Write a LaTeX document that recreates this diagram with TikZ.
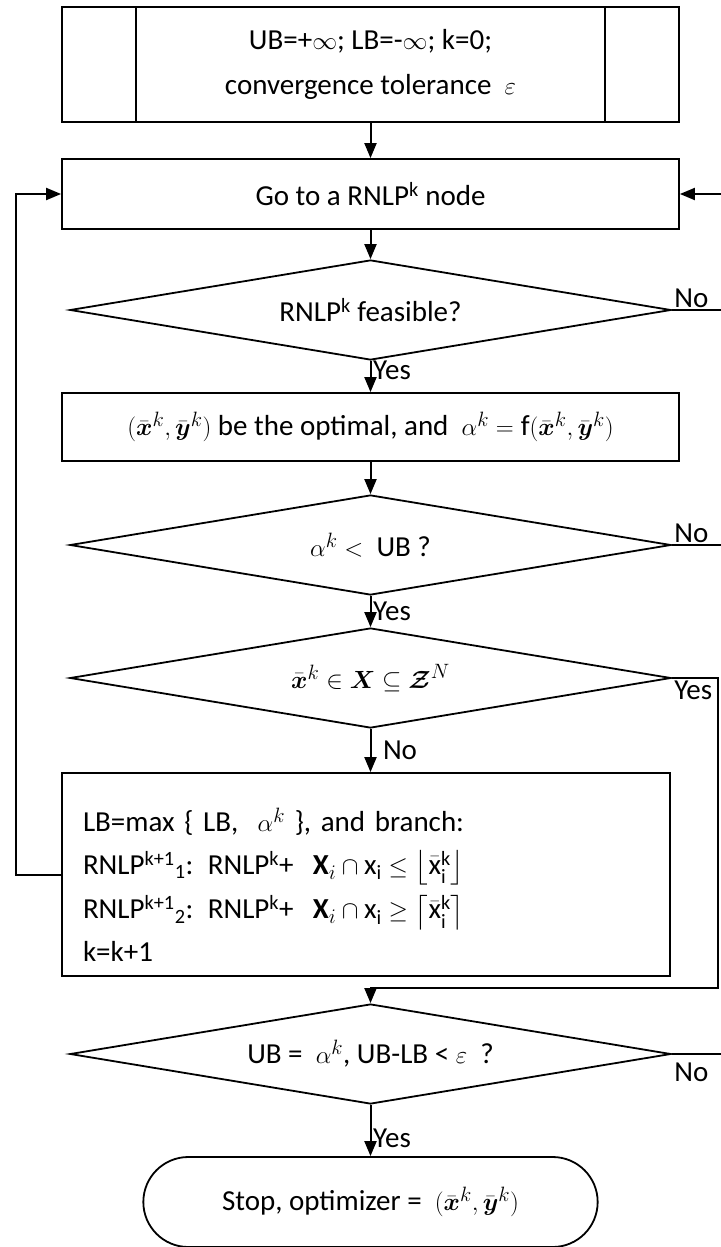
\documentclass[tikz,border=0pt]{standalone}
\usepackage{amsmath}
\usepackage{amssymb}
\usepackage{fontspec}
\setmainfont{Carlito}
\usepackage{tikz}
\usetikzlibrary{arrows.meta,positioning,shapes.geometric,shapes.misc,calc}

\begin{document}
\begin{tikzpicture}[x=1pt,y=-1pt, line join=miter,
                    every node/.style={font=\fontsize{29}{34}\selectfont}]

  \tikzset{
    box/.style={draw, line width=1.8pt, minimum width=617pt, inner sep=0pt, align=center},
    decision/.style={diamond, draw, line width=1.8pt, minimum width=601pt, minimum height=100pt, inner sep=0pt, aspect=6},
    terminal/.style={rounded rectangle, draw, line width=1.8pt, minimum width=461pt, minimum height=90pt},
    flow/.style={line width=2pt, -{Triangle[length=15pt,width=12pt]}},
    wire/.style={line width=2pt},
    lbl/.style={inner sep=1.5pt}
  }

  \useasboundingbox (0,0) rectangle (720,1247);

  % boxes and decisions
  \node[box, minimum height=115pt] (init) at (370.5,64.5)
    {UB=+$\infty$; LB=-$\infty$; k=0;\\[11pt] convergence tolerance \ $\varepsilon$};
  \draw[wire] ([xshift=75pt]init.north west) -- ([xshift=75pt]init.south west);
  \draw[wire] ([xshift=-75pt]init.north east) -- ([xshift=-75pt]init.south east);

  \node[box, minimum height=70pt] (goto) at (370.5,194) {Go to a RNLP\textsuperscript{k} node};
  \node[decision] (feas) at (370.5,310) {RNLP\textsuperscript{k} feasible?};
  \node[box, minimum height=68pt] (opt) at (370.5,427)
    {$(\bar{\boldsymbol{x}}^k, \bar{\boldsymbol{y}}^k)$ be the optimal, and \ $\alpha^k = \mathrm{f}(\bar{\boldsymbol{x}}^k, \bar{\boldsymbol{y}}^k)$};
  \node[decision] (ub) at (370.5,545) {$\alpha^k <$ \ UB ?};
  \node[decision] (intg) at (370.5,678)
    {$\bar{\boldsymbol{x}}^k \in \boldsymbol{X} \subseteq \boldsymbol{\mathcal{Z}}^N$};
  \node[box, minimum width=608pt, minimum height=203pt, text width=566pt, align=left] (branch) at (366,874.5)
    {\rule{0pt}{44pt}LB=max \{ $\mathrm{LB}$, \ $\alpha^k$ \}, and branch:\\[9pt]
     RNLP\textsuperscript{k+1}\textsubscript{1}: RNLP\textsuperscript{k}+ \ $\mathbf{X}_i \cap \mathrm{x_i} \leq \left\lfloor \bar{\mathrm{x}}_{\mathrm{i}}^{\mathrm{k}} \right\rfloor$\\[9pt]
     RNLP\textsuperscript{k+1}\textsubscript{2}: RNLP\textsuperscript{k}+ \ $\mathbf{X}_i \cap \mathrm{x_i} \geq \left\lceil \bar{\mathrm{x}}_{\mathrm{i}}^{\mathrm{k}} \right\rceil$\\[9pt]
     k=k+1};
  \node[decision] (chk) at (370.5,1054) {UB = \ $\alpha^k$, UB-LB < $\varepsilon$ \ ?};
  \node[terminal] (stop) at (370.5,1202)
    {Stop, optimizer = \ $(\bar{\boldsymbol{x}}^k, \bar{\boldsymbol{y}}^k)$};

  % rails
  \coordinate (lrail) at (16,194);
  \coordinate (rrail) at (722,194);
  \coordinate (ycorner) at (718,988);

  % connectors
  \draw[flow] (init.south) -- (goto.north);
  \draw[flow] (goto.south) -- (feas.north);
  \draw[flow] (feas.south) -- (opt.north) node[lbl, pos=0.3, right] {Yes};
  \draw[flow] (opt.south) -- (ub.north);
  \draw[flow] (ub.south) -- (intg.north) node[lbl, midway, right] {Yes};
  \draw[flow] (intg.south) -- (intg.south |- branch.north) node[lbl, midway, right, xshift=10pt] {No};
  \draw[flow] (branch.west) -| (lrail) -- (goto.west);
  \draw[flow] (intg.east) node[lbl, below right] {Yes} -| (ycorner) -- (ycorner -| chk.north) -- (chk.north);
  \draw[flow] (chk.south) -- (stop.north) node[lbl, pos=0.65, right] {Yes};
  \draw[flow] (chk.east) node[lbl, below right, yshift=-6pt] {No} -| (rrail) -- (goto.east);
  \draw[wire] (feas.east) node[lbl, above right] {No} -- (feas.east -| rrail);
  \draw[wire] (ub.east) node[lbl, above right] {No} -- (ub.east -| rrail);
\end{tikzpicture}
\end{document}
